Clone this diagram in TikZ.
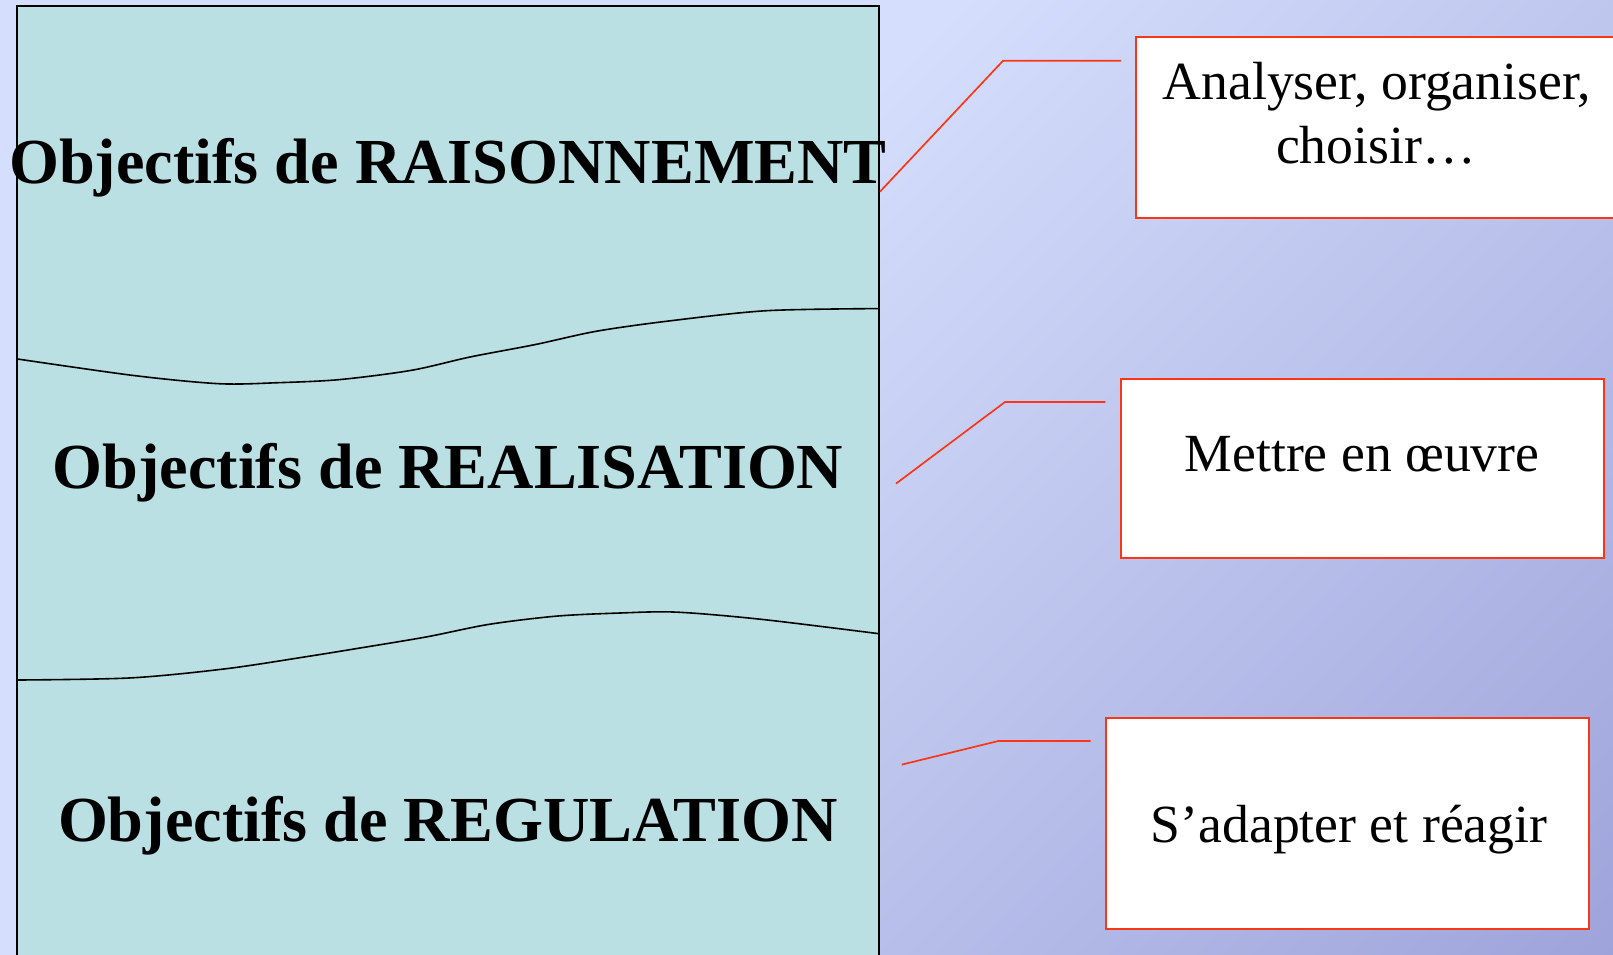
\documentclass[tikz,border=0pt]{standalone}
\usepackage{fontspec}
\setmainfont{Liberation Serif}
\definecolor{bgL}{RGB}{213,222,252}
\definecolor{bgD}{RGB}{145,150,210}
\definecolor{boxfill}{RGB}{186,224,227}
\definecolor{callred}{RGB}{250,55,20}
\pgfdeclarehorizontalshading{bgshade}{100bp}{color(0bp)=(bgL); color(35.6bp)=(bgL); color(79.6bp)=(bgD); color(100bp)=(bgD)}
\begin{document}
\begin{tikzpicture}[x=1pt,y=-1pt,
  bigtxt/.style={font=\fontsize{64.2}{70}\selectfont\bfseries, anchor=base, inner sep=0pt},
  smalltxt/.style={font=\fontsize{53.7}{62.5}\selectfont, anchor=base, inner sep=0pt},
  callout/.style={draw=callred, line width=2pt, fill=white, inner sep=0pt},
  leader/.style={draw=callred, line width=1.7pt},
  wave/.style={draw=black, line width=1.6pt},
  mainbox/.style={draw=black, line width=1.8pt, fill=boxfill, inner sep=0pt}]
\useasboundingbox (0,0) rectangle (1613,954);
\clip (0,0) rectangle (1613,954);
\shade[shading=bgshade, shading angle=-45] (0,0) rectangle (1613,1613);
% main box
\node[mainbox, minimum width=861.7pt, minimum height=964pt] (main) at (448.15,488) {};
\draw[wave] plot[smooth, tension=0.5] coordinates {(17.5,359) (133.7,375.5) (219,383.7) (277.7,382.7) (339.5,379.6) (411.5,370.3) (470,357) (535,344.6) (596.6,331.2) (668.7,321) (766.4,310.7) (879,308.6)};
\draw[wave] plot[smooth, tension=0.5] coordinates {(17.5,680) (130.6,677.9) (226.3,668.7) (308.6,656.3) (360,648) (427,636.8) (488.6,624.4) (555.5,616.2) (617.2,613.1) (675.9,612.1) (761.2,619.3) (879,633.7)};
\node[bigtxt] (o1) at (448,183.5) {Objectifs de RAISONNEMENT};
\node[bigtxt] (o2) at (448,488) {Objectifs de REALISATION};
\node[bigtxt] (o3) at (448,841.3) {Objectifs de REGULATION};
% callout boxes
\node[callout, minimum width=504pt, minimum height=181.5pt] (b1) at (1388,127.25) {};
\node[callout, minimum width=482.5pt, minimum height=179.4pt] (b2) at (1362.25,468.7) {};
\node[callout, minimum width=483pt, minimum height=211pt] (b3) at (1347.5,823.3) {};
\node[smalltxt] (t1a) at (1377,99.5) {Analyser, organiser,};
\node[smalltxt] (t1b) at (1376,163) {choisir…};
\node[smalltxt] (t2) at (1362,471.5) {Mettre en œuvre};
\node[smalltxt] (t3) at (1349,842.5) {S’adapter et réagir};
% leaders
\coordinate (s1) at (880,191.6); \coordinate (k1) at (1003,60.8); \coordinate (e1) at (1120.8,60.8);
\coordinate (s2) at (896,483.6); \coordinate (k2) at (1005,402); \coordinate (e2) at (1105.4,402);
\coordinate (s3) at (901.8,764.6); \coordinate (k3) at (998.3,741); \coordinate (e3) at (1090.5,741);
\draw[leader] (s1) -- (k1) -- (e1);
\draw[leader] (s2) -- (k2) -- (e2);
\draw[leader] (s3) -- (k3) -- (e3);
\end{tikzpicture}
\end{document}
